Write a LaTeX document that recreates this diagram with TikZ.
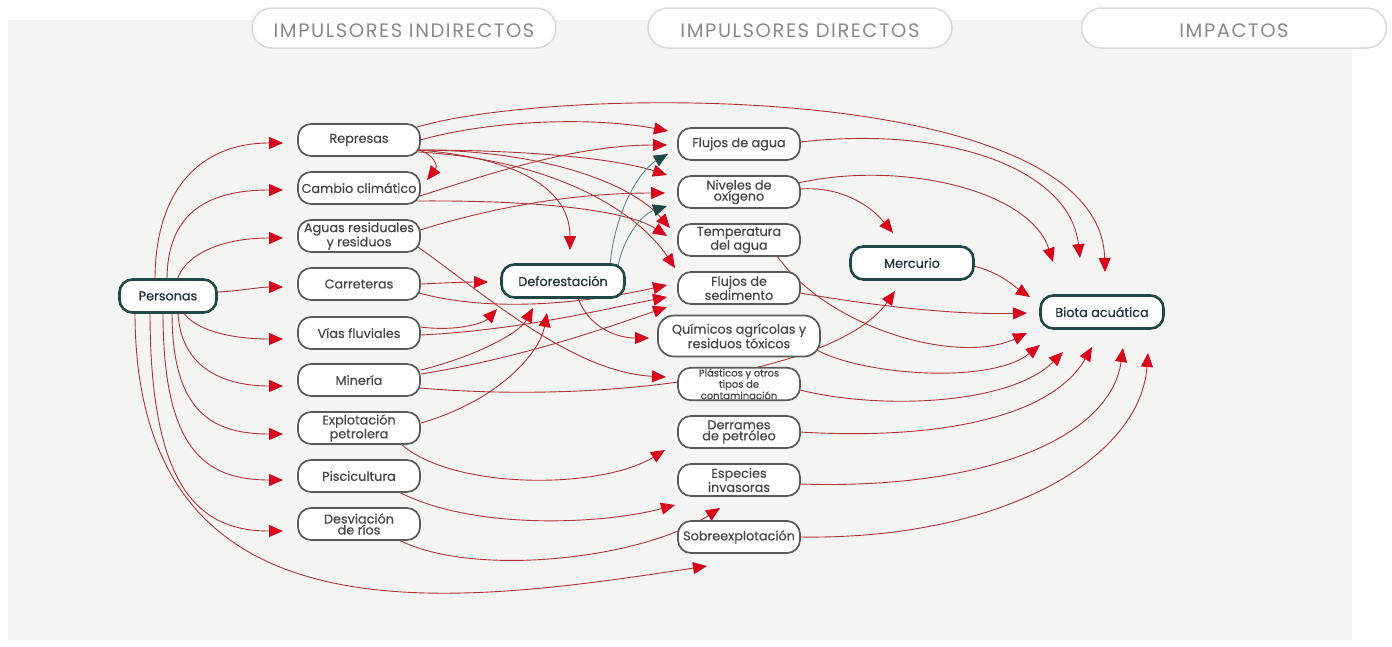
\documentclass[tikz,border=0pt]{standalone}
\usepackage{fontspec}
\setmainfont{Poppins}[FakeBold=0.4]
\newfontfamily\hdrfont{Poppins}[LetterSpace=8]
\usetikzlibrary{arrows.meta}
\definecolor{bggray}{HTML}{F4F4F3}
\definecolor{boxgray}{HTML}{5A5A5A}
\definecolor{txtgray}{HTML}{474747}
\definecolor{tealdk}{HTML}{1E4747}
\definecolor{keytxt}{HTML}{1F3333}
\definecolor{linered}{HTML}{AE3535}
\definecolor{arrred}{HTML}{D8051B}
\definecolor{lineteal}{HTML}{5F8C8C}
\definecolor{hdrline}{HTML}{DADADA}
\definecolor{hdrtxt}{HTML}{8A8A8A}
\pgfdeclarelayer{bglayer}
\pgfdeclarelayer{edgelayer}
\pgfsetlayers{bglayer,edgelayer,main}
\newcommand{\nodefont}{\fontsize{12.8}{11}\selectfont}
\newcommand{\smallnodefont}{\fontsize{10}{9.5}\selectfont}
\tikzset{
  box/.style={draw=boxgray, line width=1.7pt, fill=white, rounded corners=13pt,
    minimum width=122pt, minimum height=32pt, inner sep=1pt, align=center,
    text=txtgray, font=\nodefont},
  keybox/.style={box, draw=tealdk, line width=2.6pt, minimum width=123pt,
    minimum height=33pt, text=keytxt},
  hdr/.style={draw=hdrline, line width=1.5pt, fill=white, rounded corners=20pt,
    minimum height=40pt, text height=18pt, text depth=0pt, text=hdrtxt,
    font=\hdrfont\fontsize{19.5}{22}\selectfont},
  conn/.style={draw=linered, line width=0.9pt,
    -{Triangle[length=14pt,width=12pt,color=arrred]}},
  connt/.style={draw=lineteal, line width=0.9pt,
    -{Triangle[length=14pt,width=12pt,color=tealdk]}}
}
\begin{document}
\begin{tikzpicture}[x=1pt,y=-1pt]
\useasboundingbox (0,0) rectangle (1392,646);
\begin{pgfonlayer}{bglayer}
  \fill[white] (0,0) rectangle (1392,646);
  \fill[bggray] (8,20) rectangle (1352,640);
\end{pgfonlayer}

% headers
\node[hdr, minimum width=304pt] (h1) at (404,28) {IMPULSORES INDIRECTOS};
\node[hdr, minimum width=304pt] (h2) at (800,28) {IMPULSORES DIRECTOS};
\node[hdr, minimum width=305pt] (h3) at (1234,28) {IMPACTOS};

% nodes
\node[keybox, minimum width=97pt] (personas) at (168,296) {Personas};
\node[box] (represas) at (359,140) {Represas};
\node[box] (cambio) at (359,188) {Cambio climático};
\node[box] (aguas) at (359,236) {Aguas residuales\\y residuos};
\node[box] (carreteras) at (359,284) {Carreteras};
\node[box] (vias) at (359,333) {Vías fluviales};
\node[box] (mineria) at (359,380) {Minería};
\node[box] (explot) at (359,428) {Explotación\\petrolera};
\node[box] (pisci) at (359,476) {Piscicultura};
\node[box] (desv) at (359,524) {Desviación\\de ríos};
\node[keybox] (defor) at (563,281) {Deforestación};
\node[box] (flujagua) at (739,144) {Flujos de agua};
\node[box] (niveles) at (739,192) {Niveles de\\oxígeno};
\node[box] (temp) at (739,240) {Temperatura\\del agua};
\node[box] (sedim) at (739,288) {Flujos de\\sedimento};
\node[box, minimum width=162pt, minimum height=41pt, rounded corners=16pt] (quim) at (739,336) {Químicos agrícolas y\\residuos tóxicos};
\node[box, font=\smallnodefont] (plast) at (739,384) {Plásticos y otros\\tipos de\\contaminación};
\node[box] (derr) at (739,432) {Derrames\\de petróleo};
\node[box] (espec) at (739,480) {Especies\\invasoras};
\node[box] (sobre) at (739,537) {Sobreexplotación};
\node[keybox] (merc) at (912,263) {Mercurio};
\node[keybox] (biota) at (1102,312) {Biota acuática};

\begin{pgfonlayer}{edgelayer}
% Personas
\draw[conn] ([shift={(-13,-16)}]personas.center) .. controls (155,190) and (200,143) .. ([shift={(-76,3)}]represas.center);
\draw[conn] ([shift={(-1,-16)}]personas.center) .. controls (167,215) and (205,190) .. ([shift={(-76,2)}]cambio.center);
\draw[conn] ([shift={(9,-16)}]personas.center) .. controls (185,255) and (220,238) .. ([shift={(-76,2)}]aguas.center);
\draw[conn] ([shift={(49,-4)}]personas.center) .. controls (240,291) and (260,287) .. ([shift={(-76,3)}]carreteras.center);
\draw[conn] ([shift={(15,16)}]personas.center) .. controls (195,330) and (230,339) .. ([shift={(-76,6)}]vias.center);
\draw[conn] ([shift={(10,16)}]personas.center) .. controls (180,365) and (220,386) .. ([shift={(-76,6)}]mineria.center);
\draw[conn] ([shift={(4,16)}]personas.center) .. controls (172,410) and (210,434) .. ([shift={(-76,6)}]explot.center);
\draw[conn] ([shift={(-5,16)}]personas.center) .. controls (163,450) and (205,480) .. ([shift={(-76,4)}]pisci.center);
\draw[conn] ([shift={(-18,16)}]personas.center) .. controls (150,490) and (200,531) .. ([shift={(-76,7)}]desv.center);
\draw[conn] ([shift={(-33,16)}]personas.center) .. controls (135,650) and (450,605) .. ([shift={(-32,29)}]sobre.center);
% Represas
\draw[conn] ([shift={(58,-13)}]represas.center) .. controls (560,85) and (1100,80) .. ([shift={(3,-40)}]biota.center);
\draw[conn] ([shift={(61,0)}]represas.center) .. controls (500,118) and (600,118) .. ([shift={(-71,-13)}]flujagua.center);
\draw[conn] ([shift={(59,10)}]represas.center) .. controls (434,154) and (438,166) .. ([shift={(68,-8)}]cambio.center);
\draw[conn] ([shift={(59,10)}]represas.center) .. controls (520,158) and (570,190) .. ([shift={(7,-31)}]defor.center);
\draw[conn] ([shift={(59,10)}]represas.center) .. controls (540,150) and (620,160) .. ([shift={(-72,-17)}]niveles.center);
\draw[conn] ([shift={(59,10)}]represas.center) .. controls (540,150) and (630,182) .. ([shift={(-69,-12)}]temp.center);
\draw[conn] ([shift={(59,12)}]represas.center) .. controls (560,160) and (640,215) .. ([shift={(-64,-20)}]sedim.center);
% Cambio
\draw[conn] ([shift={(61,8)}]cambio.center) .. controls (500,170) and (580,145) .. ([shift={(-72,1)}]flujagua.center);
\draw[conn] ([shift={(58,13)}]cambio.center) .. controls (550,200) and (630,212) .. ([shift={(-72,-4)}]temp.center);
% Aguas
\draw[conn] ([shift={(61,-6)}]aguas.center) .. controls (500,205) and (580,193) .. ([shift={(-74,1)}]niveles.center);
\draw[conn] ([shift={(56,9)}]aguas.center) .. controls (480,290) and (570,372) .. ([shift={(-73,-7)}]plast.center);
% Carreteras
\draw[conn] ([shift={(62,0)}]carreteras.center) .. controls (440,283) and (470,282) .. ([shift={(-75,1)}]defor.center);
\draw[conn] ([shift={(60,9)}]carreteras.center) .. controls (500,315) and (600,300) .. ([shift={(-72,-3)}]sedim.center);
% Vias
\draw[conn] ([shift={(61,-6)}]vias.center) .. controls (460,332) and (485,322) .. ([shift={(-66,28)}]defor.center);
\draw[conn] ([shift={(62,2)}]vias.center) .. controls (520,330) and (600,310) .. ([shift={(-72,9)}]sedim.center);
% Mineria
\draw[conn] ([shift={(62,-10)}]mineria.center) .. controls (480,355) and (520,332) .. ([shift={(-30,27)}]defor.center);
\draw[conn] ([shift={(62,-6)}]mineria.center) .. controls (520,358) and (600,330) .. ([shift={(-72,19)}]sedim.center);
\draw[conn] ([shift={(61,8)}]mineria.center) .. controls (620,405) and (840,370) .. ([shift={(-17,28)}]merc.center);
% Explotacion
\draw[conn] ([shift={(62,-5)}]explot.center) .. controls (500,400) and (540,352) .. ([shift={(-16,32)}]defor.center);
\draw[conn] ([shift={(41,15)}]explot.center) .. controls (450,490) and (600,490) .. ([shift={(-74,18)}]derr.center);
% Piscicultura, Desviacion
\draw[conn] ([shift={(38,15)}]pisci.center) .. controls (470,530) and (600,525) .. ([shift={(-64,25)}]espec.center);
\draw[conn] ([shift={(38,15)}]desv.center) .. controls (470,578) and (640,560) .. ([shift={(-19,28)}]espec.center);
% Deforestacion
\draw[connt] ([shift={(47,-16)}]defor.center) .. controls (615,210) and (640,170) .. ([shift={(-71,10)}]flujagua.center);
\draw[connt] ([shift={(55,-15)}]defor.center) .. controls (625,232) and (645,213) .. ([shift={(-72,14)}]niveles.center);
\draw[conn] ([shift={(15,17)}]defor.center) .. controls (590,330) and (620,338) .. ([shift={(-90,2)}]quim.center);
% to impacts
\draw[conn] ([shift={(61,-2)}]flujagua.center) .. controls (950,125) and (1070,170) .. ([shift={(-22,-54)}]biota.center);
\draw[conn] ([shift={(59,-9)}]niveles.center) .. controls (900,160) and (1030,190) .. ([shift={(-49,-50)}]biota.center);
\draw[conn] ([shift={(61,-3)}]niveles.center) .. controls (840,186) and (870,205) .. ([shift={(-19,-30)}]merc.center);
\draw[conn] ([shift={(61,3)}]merc.center) .. controls (1000,272) and (1015,287) .. ([shift={(-72,-15)}]biota.center);
\draw[conn] ([shift={(61,5)}]sedim.center) .. controls (870,305) and (950,315) .. ([shift={(-75,1)}]biota.center);
\draw[conn] ([shift={(38,16)}]temp.center) .. controls (830,330) and (960,365) .. ([shift={(-75,21)}]biota.center);
\draw[conn] ([shift={(76,13)}]quim.center) .. controls (860,375) and (990,385) .. ([shift={(-62,33)}]biota.center);
\draw[conn] ([shift={(61,6)}]plast.center) .. controls (880,410) and (1010,405) .. ([shift={(-39,40)}]biota.center);
\draw[conn] ([shift={(61,0)}]derr.center) .. controls (930,440) and (1050,420) .. ([shift={(-10,35)}]biota.center);
\draw[conn] ([shift={(61,4)}]espec.center) .. controls (980,490) and (1110,440) .. ([shift={(21,36)}]biota.center);
\draw[conn] ([shift={(61,0)}]sobre.center) .. controls (1000,540) and (1140,460) .. ([shift={(46,41)}]biota.center);
\end{pgfonlayer}
\end{tikzpicture}
\end{document}
